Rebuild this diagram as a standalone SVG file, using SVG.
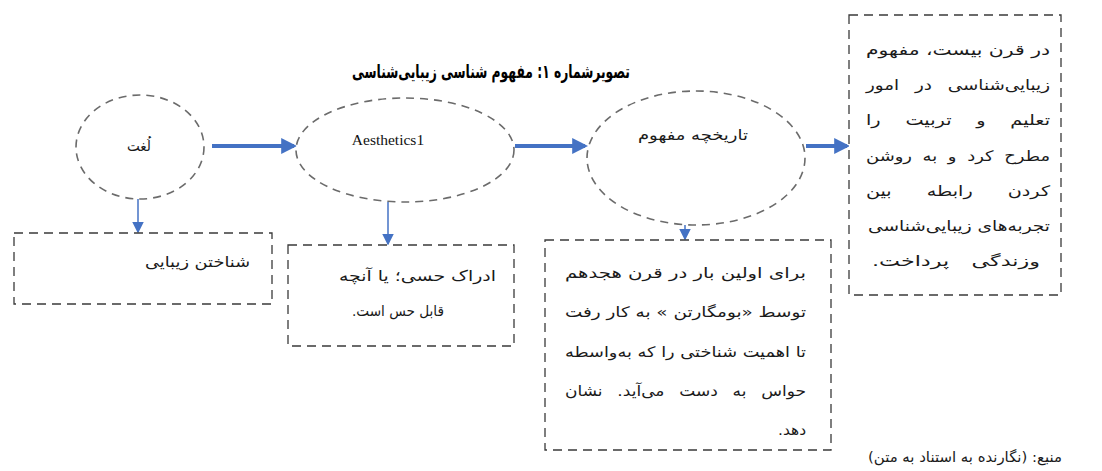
<svg xmlns="http://www.w3.org/2000/svg" width="1102" height="471" viewBox="0 0 1102 471">
<style>
.bg{fill:#ffffff}
.ell{fill:#ffffff;stroke:#6b6b6b;stroke-width:1.6;stroke-dasharray:8 6}
.box{fill:#ffffff;stroke:#3a3a3a;stroke-width:1.3;stroke-dasharray:9 6}
.fa{font-family:"DejaVu Sans","Noto Sans",sans-serif;font-size:14.5px;fill:#1a1a1a;direction:rtl;text-anchor:start}
.title{font-family:"DejaVu Sans","Noto Sans",sans-serif;font-size:19px;font-weight:bold;fill:#000;direction:rtl;text-anchor:start}
.en{font-family:"Liberation Serif",serif;font-size:15.5px;fill:#111;text-anchor:middle}
.thick{stroke:#4472c4;stroke-width:4;fill:none}
.thin{stroke:#4472c4;stroke-width:1.5;fill:none}
.head{fill:#4472c4}
</style>
<defs>
<marker id="ah" markerWidth="4" markerHeight="4" refX="3.2" refY="2" orient="auto" markerUnits="strokeWidth" viewBox="0 0 4 4">
<path d="M0,0 L4,2 L0,4 z" class="head"/>
</marker>
<marker id="ahs" markerWidth="8" markerHeight="8" refX="7" refY="4" orient="auto" markerUnits="strokeWidth" viewBox="0 0 8 8">
<path d="M0,0 L8,4 L0,8 z" class="head"/>
</marker>
</defs>
<rect class="bg" x="0" y="0" width="1102" height="471"/>
<text class="title" x="630" y="78" textLength="278" lengthAdjust="spacingAndGlyphs">تصویرشماره ۱: مفهوم شناسی زیبایی‌شناسی</text>

<g id="connectors">
<line class="thick" x1="212" y1="146" x2="294" y2="146" marker-end="url(#ah)"/>
<line class="thick" x1="515" y1="146" x2="585" y2="146" marker-end="url(#ah)"/>
<line class="thick" x1="806" y1="146" x2="847" y2="146" marker-end="url(#ah)"/>
<line class="thin" x1="138" y1="199" x2="138" y2="232" marker-end="url(#ahs)"/>
<line class="thin" x1="388" y1="202" x2="388" y2="244" marker-end="url(#ahs)"/>
<line class="thin" x1="685" y1="225" x2="685" y2="239" marker-end="url(#ahs)"/>
</g>

<g id="n-loghat">
<ellipse class="ell" cx="140" cy="147" rx="64" ry="52"/>
<text class="fa" x="151" y="151" textLength="24" lengthAdjust="spacingAndGlyphs">لُغت</text>
</g>

<g id="n-aesthetics">
<ellipse class="ell" cx="405" cy="150" rx="109" ry="52"/>
<text class="en" x="388" y="145">Aesthetics1</text>
</g>

<g id="n-tarikhche">
<ellipse class="ell" cx="696" cy="158" rx="109" ry="67"/>
<text class="fa" x="748" y="140" textLength="110" lengthAdjust="spacingAndGlyphs">تاریخچه مفهوم</text>
</g>

<g id="n-box1">
<rect class="box" x="14" y="233" width="258" height="71"/>
<text class="fa" x="250" y="267" textLength="105" lengthAdjust="spacingAndGlyphs">شناختن زیبایی</text>
</g>

<g id="n-box2">
<rect class="box" x="288" y="245" width="226" height="101"/>
<text class="fa" x="496" y="281" textLength="157" lengthAdjust="spacingAndGlyphs">ادراک حسی؛ یا آنچه</text>
<text class="fa" x="444" y="316" textLength="92" lengthAdjust="spacingAndGlyphs">قابل حس است.</text>
</g>

<g id="n-box3">
<rect class="box" x="545" y="240" width="286" height="210"/>
<text class="fa" x="806" y="278" textLength="241" lengthAdjust="spacingAndGlyphs">برای اولین بار در قرن هجدهم</text>
<text class="fa" x="806" y="317" textLength="241" lengthAdjust="spacingAndGlyphs">توسط «بومگارتن » به کار رفت</text>
<text class="fa" x="806" y="357" textLength="241" lengthAdjust="spacingAndGlyphs">تا اهمیت شناختی را که به‌واسطه</text>
<text class="fa" x="806" y="396" textLength="241" lengthAdjust="spacingAndGlyphs" word-spacing="8">حواس به دست می‌آید. نشان</text>
<text class="fa" x="806" y="435" textLength="28" lengthAdjust="spacingAndGlyphs">دهد.</text>
</g>

<g id="n-box4">
<rect class="box" x="849" y="15" width="212" height="280"/>
<text class="fa" x="1050" y="55" textLength="184" lengthAdjust="spacingAndGlyphs">در قرن بیست، مفهوم</text>
<text class="fa" x="1050" y="90" textLength="184" lengthAdjust="spacingAndGlyphs" word-spacing="8">زیبایی‌شناسی در امور</text>
<text class="fa" x="1050" y="125" textLength="184" lengthAdjust="spacingAndGlyphs" word-spacing="14">تعلیم و تربیت را</text>
<text class="fa" x="1050" y="161" textLength="184" lengthAdjust="spacingAndGlyphs" word-spacing="4">مطرح کرد و به روشن</text>
<text class="fa" x="1050" y="196" textLength="184" lengthAdjust="spacingAndGlyphs" word-spacing="22">کردن رابطه بین</text>
<text class="fa" x="1050" y="231" textLength="182" lengthAdjust="spacingAndGlyphs">تجربه‌های زیبایی‌شناسی</text>
<text class="fa" x="1040" y="266" textLength="168" lengthAdjust="spacingAndGlyphs" word-spacing="10">وزندگی پرداخت.</text>
</g>

<text class="fa" x="1062" y="462" textLength="194" lengthAdjust="spacingAndGlyphs">منبع: (نگارنده به استناد به متن)</text>
</svg>
